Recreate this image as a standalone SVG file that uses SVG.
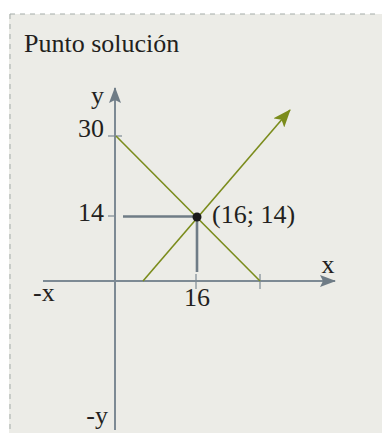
<svg xmlns="http://www.w3.org/2000/svg" width="382" height="433" viewBox="0 0 382 433">
<style>
.t{font-family:"Liberation Serif",serif;fill:#231f20;font-size:26px}
.ax{stroke:#7d8a94;stroke-width:2;fill:none}
.tick{stroke:#7d8a94;stroke-width:1.2;fill:none}
.g{stroke:#7b8c1c;stroke-width:1.6;fill:none}
.guide{stroke:#6f7c86;stroke-width:2.6;fill:none}
</style>
<defs>
<marker id="ah" viewBox="0 0 16 12" refX="15" refY="6" markerWidth="16" markerHeight="12" markerUnits="userSpaceOnUse" orient="auto">
<path d="M0,0 L16,6 L0,12 L3,6 Z" fill="#6f7c86"/>
</marker>
<marker id="gh" viewBox="0 0 18 14" refX="17" refY="7" markerWidth="18" markerHeight="14" markerUnits="userSpaceOnUse" orient="auto">
<path d="M0,0 L18,7 L0,14 L4,7 Z" fill="#7b8c1c"/>
</marker>
</defs>
<g id="panel">
<rect x="9" y="14" width="373" height="419" fill="#ecece7"/>
<path d="M10,14 H378 M10,14 V433" stroke="#a4aca9" stroke-width="1" stroke-dasharray="5,5" fill="none"/>
<text class="t" x="24" y="52">Punto solución</text>
</g>
<g id="connectors">
<line class="ax" x1="43" y1="281" x2="335" y2="281" marker-end="url(#ah)"/>
<line class="ax" x1="115" y1="430" x2="115" y2="88" marker-end="url(#ah)"/>
<line class="tick" x1="108" y1="136" x2="122" y2="136"/>
<line class="tick" x1="108" y1="216" x2="115" y2="216"/>
<line class="tick" x1="196" y1="274" x2="196" y2="289"/>
<line class="tick" x1="260" y1="274" x2="260" y2="289"/>
<line class="guide" x1="123" y1="216.5" x2="197" y2="216.5"/>
<line class="guide" x1="197" y1="217" x2="197" y2="272"/>
<line class="g" x1="116" y1="136" x2="260" y2="281"/>
<line class="g" x1="143" y1="281" x2="290" y2="110" marker-end="url(#gh)"/>
</g>
<g id="point">
<circle cx="197" cy="217" r="4.5" fill="#1a1a1a"/>
<text class="t" x="212" y="223">(16; 14)</text>
</g>
<g id="labels">
<text class="t" x="104" y="104" text-anchor="end">y</text>
<text class="t" x="104" y="137" text-anchor="end">30</text>
<text class="t" x="104" y="221" text-anchor="end">14</text>
<text class="t" x="328" y="273" text-anchor="middle">x</text>
<text class="t" x="33" y="301">-x</text>
<text class="t" x="197" y="306" text-anchor="middle">16</text>
<text class="t" x="108" y="424" text-anchor="end">-y</text>
</g>
</svg>
